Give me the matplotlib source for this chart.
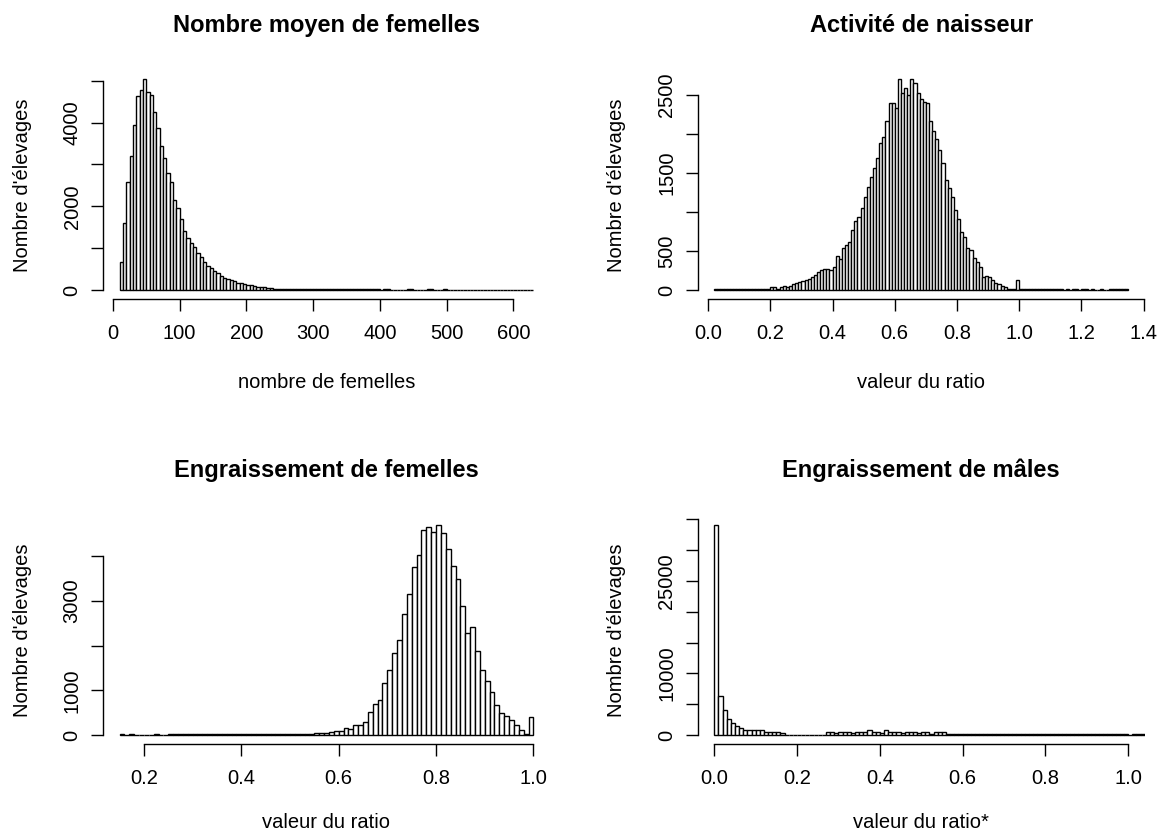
import numpy as np
import matplotlib
matplotlib.use("Agg")
import matplotlib.pyplot as plt

plt.rcParams['font.family'] = ['Liberation Sans', 'DejaVu Sans']

# ---------------------------------------------------------------------------
# Histogram counts (number of farms per class)
# ---------------------------------------------------------------------------

# Nombre moyen de femelles : classes de 5 femelles, à partir de 10
femelles_start = 10
femelles_width = 5
femelles_counts = [
    668, 1600, 2590, 3190, 3930, 4645, 4780, 5030, 4740, 4660,
    4250, 3880, 3450, 3150, 2790, 2580, 2155, 1960, 1700, 1400,
    1240, 1120, 1020, 880, 780, 680, 565, 525, 460, 405,
    340, 300, 270, 230, 205, 180, 165, 145, 125,
    115, 100, 85, 75, 62, 50, 40, 32, 28, 26,
    25, 24, 24, 23, 23, 22, 22, 22, 22, 22,
    22, 22, 22, 22, 22, 22, 22, 22, 22, 22,
    22, 22, 22, 22, 22, 22, 22, 32, 32, 1,
    32, 30, 1, 1, 1, 1, 1, 32, 32, 1,
    1, 1, 1, 30, 30, 1, 1, 1, 30, 0,
    0, 0, 0, 0, 0, 0, 0, 0, 0, 0,
    0, 0, 0, 0, 0, 0, 0, 0, 0, 0,
    0, 0, 0, 0, 0,
]

# Activité de naisseur : classes de 0.01, à partir de 0.02
naisseur_start = 0.02
naisseur_width = 0.01
naisseur_counts = [
    14, 12, 12, 10, 12, 14, 12, 10, 12, 12, 10, 12, 14, 12, 10, 12, 12, 14,
    35, 35, 17, 35, 51, 35, 51, 72, 85, 98, 119, 132, 145, 166, 190, 226,
    260, 268, 268, 256,
    298, 435, 396, 533, 575, 618, 767, 887, 938, 1045,
    1185, 1321, 1449, 1556, 1692, 1876, 1961, 2161, 2388, 2388,
    2324, 2695, 2516, 2580, 2494, 2695, 2644, 2516, 2443, 2409,
    2388, 2161, 2034, 1931, 1791, 1620, 1407, 1300, 1194, 1023,
    908, 738, 682, 533, 512, 413, 354, 298, 162, 183,
    162, 128, 94, 73, 55, 35, 13, 9, 9, 128,
    12, 12, 14, 12, 12, 10, 12, 12, 14, 12, 12, 10, 12, 12,
    0, 10, 0, 10, 10, 0, 10, 10, 0, 10, 0, 0, 10, 0, 0, 10, 10, 10, 10, 10, 10,
]

# Engraissement de femelles : classes de 0.01, à partir de 0.15
eng_f_start = 0.15
eng_f_width = 0.01
eng_f_counts = [
    25, 0, 25, 0, 0, 0, 0, 25, 0, 0,
    24, 25, 24, 26, 24, 25, 24, 26, 25, 24,
    25, 24, 26, 25, 24, 25, 26, 24, 25, 24,
    26, 25, 24, 25, 24, 26, 25, 24, 25, 26,
    45, 50, 55,
    66, 96, 96, 156, 134, 230, 230, 290, 527, 692,
    788, 1160, 1458, 1830, 2120, 2707, 3146, 3741, 4009, 4568,
    4634, 4531, 4694, 4500, 4152, 3779, 3473, 2886, 2268, 2411,
    1867, 1458, 1219, 960, 662, 505, 431, 342, 230, 119,
    29, 402,
]

# Engraissement de mâles : classes de 0.01, à partir de 0
eng_m_start = 0.0
eng_m_width = 0.01
eng_m_counts = [
    34100, 6300, 4150, 2700, 2000, 1450, 1190, 920, 780, 770,
    770, 760, 470, 450, 450, 440, 430,
    30, 25, 30, 20, 25, 30, 25, 20, 30, 25,
    440, 450, 430, 440, 450, 440, 430, 440, 450, 440,
    810, 450, 440, 430, 790, 440, 450, 440, 430, 440,
    450, 440, 430, 440, 450, 160, 440, 450, 440,
    165, 160, 170, 160, 165, 160, 170, 165, 160, 165,
    170, 160, 165, 160, 170, 165, 160, 165, 170, 160,
    165, 160, 170, 165, 160, 165, 170, 160, 165, 160,
    170, 165, 160, 165, 170, 160, 165, 160, 170, 165,
    160, 165, 170, 160,
    0, 160, 160, 160, 160, 160, 160, 160,
]

# ---------------------------------------------------------------------------
# Axis ticks and labels
# ---------------------------------------------------------------------------
femelles_xticks = [0, 100, 200, 300, 400, 500, 600]
femelles_xlabels = ['0', '100', '200', '300', '400', '500', '600']
femelles_yticks = [0, 1000, 2000, 3000, 4000, 5000]
femelles_ylabels = ['0', '', '2000', '', '4000', '']

naisseur_xticks = [0.0, 0.2, 0.4, 0.6, 0.8, 1.0, 1.2, 1.4]
naisseur_xlabels = ['0.0', '0.2', '0.4', '0.6', '0.8', '1.0', '1.2', '1.4']
naisseur_yticks = [0, 500, 1000, 1500, 2000, 2500]
naisseur_ylabels = ['0', '500', '', '1500', '', '2500']

eng_f_xticks = [0.2, 0.4, 0.6, 0.8, 1.0]
eng_f_xlabels = ['0.2', '0.4', '0.6', '0.8', '1.0']
eng_f_yticks = [0, 1000, 2000, 3000, 4000]
eng_f_ylabels = ['0', '1000', '', '3000', '']

eng_m_xticks = [0.0, 0.2, 0.4, 0.6, 0.8, 1.0]
eng_m_xlabels = ['0.0', '0.2', '0.4', '0.6', '0.8', '1.0']
eng_m_yticks = [0, 5000, 10000, 15000, 20000, 25000, 30000, 35000]
eng_m_ylabels = ['0', '', '10000', '', '', '25000', '', '']
eng_m_xrange = (0.0, 1.0)

titles = ['Nombre moyen de femelles', 'Activité de naisseur',
          'Engraissement de femelles', 'Engraissement de mâles']
xlabels = ['nombre de femelles', 'valeur du ratio',
           'valeur du ratio', 'valeur du ratio*']
ylabel = "Nombre d'élevages"

# ---------------------------------------------------------------------------
# Figure
# ---------------------------------------------------------------------------
W, H = 1157, 834
fig = plt.figure(figsize=(W / 100, H / 100), dpi=100)
fig.patch.set_facecolor('white')

LW = 1.0
TICK_FS = 14.5
LABEL_FS = 14.5
TITLE_FS = 17


def add_axes_px(left, top, width, height):
    return fig.add_axes([left / W, 1 - (top + height) / H, width / W, height / H])


def draw_hist(ax, start, width, counts, xticks, xtlabels, yticks, ytlabels,
              title, xlabel, xlabel_y, xrange=None):
    counts = np.asarray(counts, dtype=float)
    edges = start + width * np.arange(len(counts))
    ax.bar(edges, counts, width=width, align='edge', facecolor='white',
           edgecolor='black', linewidth=LW)

    if xrange is None:
        xrange = (edges[0], edges[-1] + width)
    span = xrange[1] - xrange[0]
    ax.set_xlim(xrange[0] - 0.04 * span, xrange[1] + 0.04 * span)
    ymax = counts.max()
    ax.set_ylim(-0.04 * ymax, 1.04 * ymax)

    for side in ('top', 'right'):
        ax.spines[side].set_visible(False)
    for side in ('left', 'bottom'):
        ax.spines[side].set_linewidth(LW)
    ax.spines['bottom'].set_bounds(xticks[0], xticks[-1])
    ax.spines['left'].set_bounds(yticks[0], yticks[-1])

    ax.set_xticks(xticks)
    ax.set_xticklabels(xtlabels)
    ax.set_yticks(yticks)
    ax.set_yticklabels(ytlabels)
    ax.tick_params(axis='both', direction='out', length=8.8, width=LW,
                   labelsize=TICK_FS, colors='black')
    ax.tick_params(axis='x', pad=9.4)
    ax.tick_params(axis='y', pad=6.6)
    for lab in ax.get_yticklabels():
        lab.set_rotation(90)
        lab.set_verticalalignment('center')

    ax.set_title(title, fontsize=TITLE_FS, fontweight='bold', y=1.202,
                 pad=0, va='center')
    ax.set_xlabel(xlabel, fontsize=LABEL_FS, va='center')
    ax.xaxis.set_label_coords(0.5, xlabel_y)
    ax.set_ylabel(ylabel, fontsize=LABEL_FS, va='center')
    ax.yaxis.set_label_coords(-0.181, 0.5)


ax1 = add_axes_px(103, 71, 447, 227.5)
ax2 = add_axes_px(697.7, 71, 447, 227.5)
ax3 = add_axes_px(103, 516.3, 447, 227.3)
ax4 = add_axes_px(697.7, 516.3, 447, 227.3)

draw_hist(ax1, femelles_start, femelles_width, femelles_counts,
          femelles_xticks, femelles_xlabels, femelles_yticks, femelles_ylabels,
          titles[0], xlabels[0], -0.368)
draw_hist(ax2, naisseur_start, naisseur_width, naisseur_counts,
          naisseur_xticks, naisseur_xlabels, naisseur_yticks, naisseur_ylabels,
          titles[1], xlabels[1], -0.368)
draw_hist(ax3, eng_f_start, eng_f_width, eng_f_counts,
          eng_f_xticks, eng_f_xlabels, eng_f_yticks, eng_f_ylabels,
          titles[2], xlabels[2], -0.345)
draw_hist(ax4, eng_m_start, eng_m_width, eng_m_counts,
          eng_m_xticks, eng_m_xlabels, eng_m_yticks, eng_m_ylabels,
          titles[3], xlabels[3], -0.345, xrange=eng_m_xrange)

fig.savefig('out.png', dpi=100, facecolor='white')
